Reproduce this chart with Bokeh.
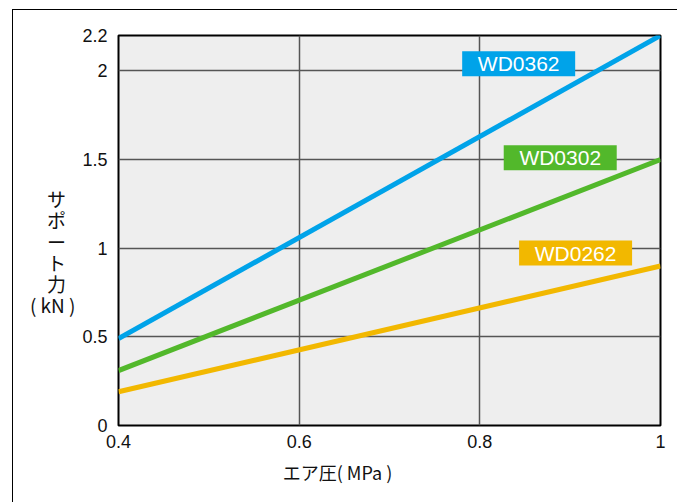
from bokeh.plotting import figure
from bokeh.models import FixedTicker, ColumnDataSource, Range1d, LinearAxis
from bokeh.core.properties import value
from bokeh.embed import file_html
from bokeh.resources import INLINE

# data
pressure = [0.4, 1.0]
series_names = ["WD0362", "WD0302", "WD0262"]
wd0362 = [0.49, 2.2]
wd0302 = [0.31, 1.5]
wd0262 = [0.19, 0.9]
x_ticks = [0.4, 0.6, 0.8, 1.0]
x_tick_labels = ["0.4", "0.6", "0.8", "1"]
y_ticks = [0, 0.5, 1, 1.5, 2, 2.2]
y_tick_labels = ["0", "0.5", "1", "1.5", "2", "2.2"]
x_title = "エア圧( MPa )"
y_title_chars = ["サ", "ポ", "ー", "ト", "力"]
y_title_unit = "( kN )"

colors = ["#00a3e9", "#52b82b", "#f2b800"]
label_pos = [(0.843, 2.04), (0.889, 1.51), (0.906, 0.973)]
x_title_pos = 0.6424

FONT = "Liberation Sans"
JFONT = "Noto Sans CJK JP"

W, H = 665, 493
p = figure(width=W, height=H, output_backend="svg", toolbar_location=None,
           x_range=Range1d(0.4, 1.0), y_range=Range1d(0, 2.2),
           min_border_left=105, min_border_right=18, min_border_top=25, min_border_bottom=78)
p.styles = {"border-left": "1px solid #000", "border-top": "1px solid #000",
            "margin-left": "12px", "margin-top": "9px"}
p.background_fill_color = "#eeeeee"
p.border_fill_color = "white"
p.outline_line_color = "#000000"
p.outline_line_width = 2

p.xaxis.ticker = FixedTicker(ticks=x_ticks)
p.xaxis.major_label_overrides = {t: l for t, l in zip(x_ticks, x_tick_labels)}
p.yaxis.ticker = FixedTicker(ticks=y_ticks)
p.yaxis.major_label_overrides = {t: l for t, l in zip(y_ticks, y_tick_labels)}
for ax in (p.xaxis, p.yaxis):
    ax.axis_line_color = None
    ax.major_tick_line_color = None
    ax.minor_tick_line_color = None
    ax.major_label_text_font = FONT
    ax.major_label_text_font_size = "18px"
    ax.major_label_text_color = "#111111"
p.xaxis.major_label_standoff = 3
p.yaxis.major_label_standoff = 5

# y title: stacked characters as a horizontal multi-line axis label
# (an en space after each character centres it over the unit line)
y_lines = ["", ""] + [c + "\u2002" for c in y_title_chars] + [y_title_unit]
p.yaxis.axis_label = "\n".join(y_lines)
p.yaxis.axis_label_orientation = "horizontal"
p.yaxis.axis_label_text_font = JFONT
p.yaxis.axis_label_text_font_size = "19px"
p.yaxis.axis_label_text_font_style = "normal"
p.yaxis.axis_label_text_color = "#111111"
p.yaxis.axis_label_text_line_height = 0.78
p.yaxis.axis_label_standoff = 4

# x title: an extra axis below with a single labelled position
xt = LinearAxis(ticker=FixedTicker(ticks=[x_title_pos]),
                major_label_overrides={x_title_pos: x_title})
xt.axis_line_color = None
xt.major_tick_line_color = None
xt.minor_tick_line_color = None
xt.major_label_text_font = JFONT
xt.major_label_text_font_size = "18px"
xt.major_label_text_color = "#111111"
xt.major_label_standoff = 2
p.add_layout(xt, "below")

p.xgrid.ticker = FixedTicker(ticks=[0.6, 0.8])
p.ygrid.ticker = FixedTicker(ticks=[0.5, 1, 1.5, 2])
p.xgrid.grid_line_color = "#555555"
p.ygrid.grid_line_color = "#555555"
p.xgrid.grid_line_width = 1.5
p.ygrid.grid_line_width = 1.5

for ys, c in zip([wd0362, wd0302, wd0262], colors):
    p.line(pressure, ys, line_color=c, line_width=5)

# series tags
src = ColumnDataSource(dict(x=[lp[0] for lp in label_pos], y=[lp[1] for lp in label_pos],
                            name=series_names, color=colors))
p.rect(x="x", y="y", width=113, height=25, width_units="screen", height_units="screen",
       fill_color="color", line_color=None, source=src)
p.text(x="x", y="y", text="name", text_color="white", text_font=value(FONT),
       text_font_size="21px", text_align="center", text_baseline="middle", source=src)

open("out.html", "w").write(file_html(p, INLINE))
